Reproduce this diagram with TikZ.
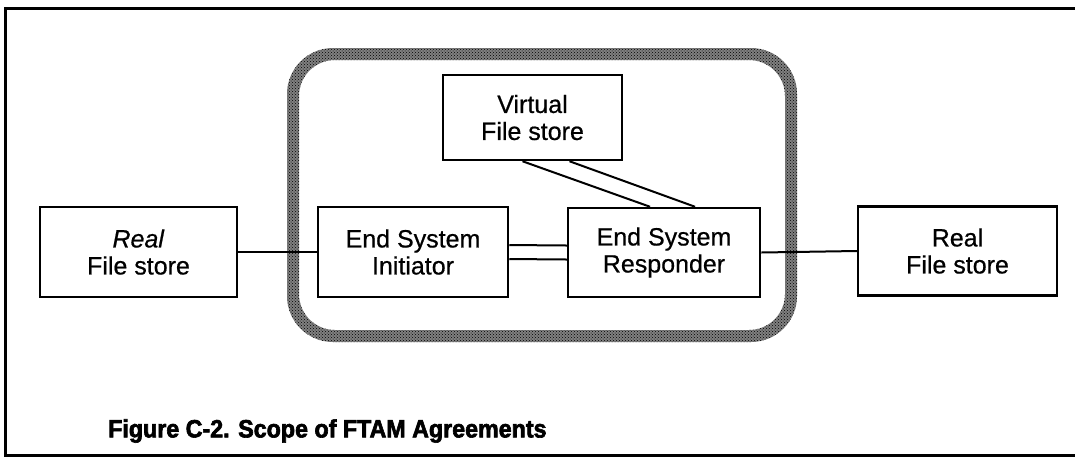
\documentclass[tikz,border=0pt]{standalone}
\usepackage{fontspec}
\setmainfont{Liberation Sans}[FakeBold=0.6]
\newfontfamily\capfont{Liberation Sans Bold}[FakeStretch=0.93,FakeBold=2.5]
\usetikzlibrary{patterns}
\begin{document}
\begin{tikzpicture}[x=1pt,y=-1pt,
  fbox/.style={draw, line width=2.5pt, align=center, inner sep=0pt, font=\fontsize{25}{27}\selectfont},
  wire/.style={line width=2pt}]
\useasboundingbox (0,0) rectangle (1075,459);
% outer frame (open on the right)
\draw[line width=3pt] (1075,8) -- (5,8) -- (5,455) -- (1075,455);
% scope rounded box (stippled band)
\fill[black!50, even odd rule, rounded corners=46pt] (287,48) rectangle (797,342)
  [rounded corners=36pt] (299,60) rectangle (785,330);
\fill[pattern=crosshatch dots, pattern color=black, even odd rule, rounded corners=46pt] (287,48) rectangle (797,342)
  [rounded corners=36pt] (299,60) rectangle (785,330);
% nodes
\node[fbox, minimum width=197pt, minimum height=90pt] (lreal) at (138.5,252) {\textit{Real}\\File store};
\node[fbox, minimum width=190pt, minimum height=90pt] (ini) at (413,252) {End System\\Initiator};
\node[fbox, minimum width=192pt, minimum height=89pt] (resp) at (664,252.5) {End System\\Responder};
\node[fbox, minimum width=199pt, minimum height=89pt] (rreal) at (957.5,251) {Real\\File store};
\node[fbox, minimum width=179pt, minimum height=85pt] (virt) at (532.5,117.5) {Virtual\\File store};
% connectors
\draw[wire] (lreal.east) -- (ini.west);
\draw[wire] (resp.east) -- (rreal.west);
\draw[wire] ([yshift=7pt]ini.east) -- ([yshift=7pt]resp.west);
\draw[wire] ([yshift=-7pt]ini.east) -- ([yshift=-7pt]resp.west);
\draw[wire] ([xshift=-10pt]virt.south) -- ([xshift=-14pt]resp.north);
\draw[wire] ([xshift=37pt]virt.south) -- ([xshift=31pt]resp.north);
% caption
\node[anchor=west, inner sep=0pt, font=\capfont\fontsize{25}{27}\selectfont] (cap) at (108,431) {Figure C-2. Scope of FTAM Agreements};
\end{tikzpicture}
\end{document}
